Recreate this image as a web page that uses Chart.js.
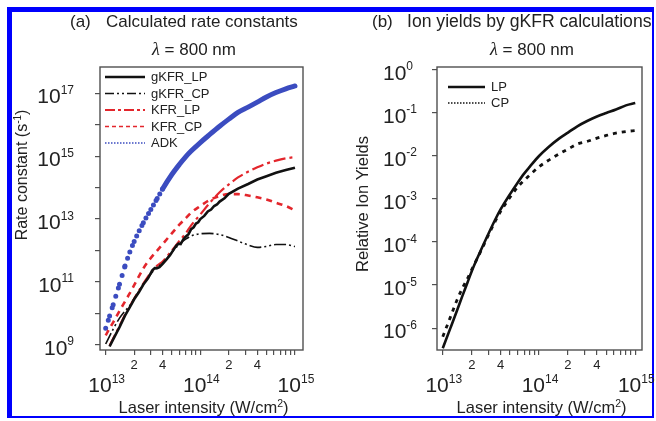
<!DOCTYPE html>
<html>
<head>
<meta charset="utf-8">
<script src="https://cdn.jsdelivr.net/npm/chart.js@4.4.0/dist/chart.umd.min.js"></script>
<style>
  body { margin: 0; background: #fff; }
  #page { position: relative; width: 656px; height: 421px; overflow: hidden; }
  #frame { position: absolute; left: 7px; top: 7px; width: 647px; height: 411px; box-sizing: border-box;
    border-style: solid; border-color: #0000fe; border-width: 5px 2px 2px 5px; }
  #chartA { position: absolute; left: 0; top: 0; }
  #chartB { position: absolute; left: 330px; top: 0; }
</style>
</head>
<body>
<div id="page">
  <div id="frame"></div>
  <canvas id="chartA" width="330" height="421"></canvas>
  <canvas id="chartB" width="326" height="421"></canvas>
</div>
<script>
// (a) rate constants (s^-1) vs laser intensity (W/cm2)
const intensityA = [1.0e13, 1.1e13, 1.2e13, 1.4e13, 1.6e13, 1.8e13, 2.0e13, 2.5e13, 3.0e13, 3.5e13, 4.0e13,
  5.0e13, 6.0e13, 7.0e13, 8.0e13, 1.0e14, 1.25e14, 1.6e14, 2.0e14, 2.5e14, 3.2e14, 4.0e14, 5.0e14, 6.3e14, 8.0e14, 1.0e15];
const adkRate = [3.4e9, 8.3e9, 1.9e10, 8.5e10, 3.2e11, 8.9e11, 1.95e12, 7.6e12, 2.0e13, 4.5e13, 9.1e13,
  2.6e14, 5.4e14, 9.5e14, 1.45e15, 2.7e15, 4.8e15, 8.9e15, 1.5e16, 2.45e16, 3.6e16, 5.2e16, 7.6e16, 1.05e17, 1.38e17, 1.7e17];
const kfrLpRate = [null, 9.5e8, 1.6e9, 4.0e9, 9.1e9, 1.7e10, 3.0e10, 8.9e10, 2.0e11, 3.3e11, 4.5e11,
  1.0e12, 2.0e12, 3.5e12, 6.3e12, 1.4e13, 3.2e13, 7.1e13, 1.26e14, 2.1e14, 3.2e14, 4.4e14, 5.8e14, 7.2e14, 8.5e14, 9.3e14];
const kfrCpRate = [2.0e9, 3.4e9, 5.2e9, 1.2e10, 2.4e10, 4.4e10, 7.9e10, 2.7e11, 5.8e11, 1.0e12, 1.6e12,
  3.5e12, 6.6e12, 1.05e13, 1.6e13, 2.6e13, 4.0e13, 5.4e13, 6.2e13, 6.2e13, 5.6e13, 4.9e13, 4.2e13, 3.3e13, 2.6e13, 1.9e13];
const gkfrCpRate = [1.07e9, 1.9e9, 3.2e9, 7.1e9, 1.2e10, 1.8e10, 3.0e10, 8.3e10, 1.8e11, 2.9e11, 4.0e11,
  8.7e11, 1.6e12, 2.3e12, 2.9e12, 3.4e12, 3.5e12, 3.2e12, 2.6e12, 2.0e12, 1.5e12, 1.26e12, 1.35e12, 1.55e12, 1.55e12, 1.35e12];
// gKFR_LP is a bit wiggly, so it gets a finer grid
const intensityLP = [1.1e13, 1.2e13, 1.4e13, 1.6e13, 1.8e13, 2.0e13, 2.25e13, 2.5e13, 2.8e13, 3.1e13,
  3.3e13, 3.5e13, 3.7e13, 4.0e13, 4.4e13, 4.8e13, 5.2e13, 5.6e13, 5.9e13, 6.2e13,
  6.6e13, 7.0e13, 7.5e13, 8.0e13, 8.5e13, 9.0e13, 9.5e13,
  1.0e14, 1.1e14, 1.2e14, 1.3e14, 1.4e14, 1.5e14, 1.6e14, 1.8e14, 2.0e14,
  2.5e14, 3.2e14, 4.0e14, 5.0e14, 6.3e14, 8.0e14, 1.0e15];
const gkfrLpRate = [8.9e8, 1.5e9, 3.7e9, 8.5e9, 1.6e10, 2.8e10, 4.8e10, 8.3e10, 1.3e11, 2.3e11,
  2.75e11, 2.75e11, 2.95e11, 3.8e11, 5.2e11, 7.2e11, 1.05e12, 1.45e12, 1.65e12, 1.6e12,
  2.25e12, 2.75e12, 3.3e12, 4.8e12, 5.5e12, 7.2e12, 7.9e12,
  1.0e13, 1.26e13, 1.74e13, 2.0e13, 2.6e13, 2.9e13, 3.6e13, 4.6e13, 6.3e13,
  9.3e13, 1.3e14, 1.8e14, 2.3e14, 2.95e14, 3.6e14, 4.3e14];

// (b) relative ion yields
const intensityB = [1.0e13, 1.2e13, 1.4e13, 1.6e13, 1.8e13, 2.0e13, 2.5e13, 3.0e13, 3.5e13, 4.0e13, 5.0e13,
  6.0e13, 7.0e13, 8.0e13, 1.0e14, 1.25e14, 1.6e14, 2.0e14, 2.5e14, 3.2e14, 4.0e14, 5.0e14, 6.3e14, 8.0e14, 1.0e15];
const lpYield = [3.4e-7, 1.0e-6, 2.5e-6, 5.6e-6, 1.12e-5, 2.1e-5, 6.6e-5, 1.6e-4, 3.3e-4, 5.8e-4, 1.3e-3,
  2.4e-3, 3.9e-3, 5.6e-3, 1.0e-2, 1.6e-2, 2.5e-2, 3.5e-2, 4.9e-2, 6.6e-2, 8.3e-2, 0.10, 0.12, 0.15, 0.17];
const cpYield = [6.3e-7, 1.8e-6, 4.4e-6, 8.5e-6, 1.4e-5, 2.3e-5, 6.3e-5, 1.5e-4, 3.0e-4, 5.2e-4, 1.1e-3,
  1.9e-3, 2.7e-3, 3.6e-3, 5.6e-3, 7.9e-3, 1.1e-2, 1.45e-2, 1.9e-2, 2.2e-2, 2.6e-2, 3.0e-2, 3.4e-2, 3.7e-2, 3.9e-2];

// ticks
const xTicks = [1e13, 2e13, 3e13, 4e13, 5e13, 6e13, 7e13, 8e13, 9e13,
  1e14, 2e14, 3e14, 4e14, 5e14, 6e14, 7e14, 8e14, 9e14, 1e15];
const xDecades = [1e13, 1e14, 1e15];
const xDecadeExps = ['13', '14', '15'];
const xMinorLabels = [2e13, 4e13, 2e14, 4e14];
const xMinorTexts = ['2', '4', '2', '4'];
const yTicksA = [1e9, 1e10, 1e11, 1e12, 1e13, 1e14, 1e15, 1e16, 1e17];
const yLabelsA = [1e9, 1e11, 1e13, 1e15, 1e17];
const yExpsA = ['9', '11', '13', '15', '17'];
const yTicksB = [1e-6, 1e-5, 1e-4, 1e-3, 1e-2, 1e-1, 1];
const yExpsB = ['-6', '-5', '-4', '-3', '-2', '-1', '0'];

const FONT = '"Liberation Sans", Arial, sans-serif';
const TEXT = '#222';
const AXIS = '#505050';
const RED = '#e3262c';
const BLUE = '#3b4cc0';

Chart.defaults.font.family = FONT;

function pts(xs, ys) {
  return xs.map((x, i) => ({x: x, y: ys[i]})).filter(p => p.y !== null);
}

function setFont(ctx, p) {
  ctx.font = (p.style || '') + ' ' + p.size + 'px ' + (p.family || FONT);
}

// draw text pieces side by side, pieces can be raised (superscripts)
function richText(ctx, parts, x, y, align) {
  let total = 0;
  parts.forEach(p => { setFont(ctx, p); p.w = ctx.measureText(p.text).width; total += p.w; });
  let cx = align === 'center' ? x - total / 2 : (align === 'right' ? x - total : x);
  ctx.textAlign = 'left';
  ctx.textBaseline = 'alphabetic';
  parts.forEach(p => {
    setFont(ctx, p);
    ctx.fillText(p.text, cx, y - (p.rise || 0));
    cx += p.w;
  });
}

function power(exp) {
  return [{text: '10', size: 21}, {text: exp, size: 12, rise: 9.5}];
}

function drawLegend(ctx, chart, dx, dy, step, len) {
  const a = chart.chartArea;
  chart.data.datasets.forEach((ds, i) => {
    const x = a.left + dx;
    const y = a.top + dy + i * step;
    ctx.save();
    ctx.strokeStyle = ds.borderColor;
    ctx.lineWidth = ds.legendWidth;
    ctx.setLineDash(ds.legendDash);
    ctx.beginPath();
    ctx.moveTo(x, y);
    ctx.lineTo(x + len, y);
    ctx.stroke();
    ctx.restore();
    ctx.font = '13px ' + FONT;
    ctx.textAlign = 'left';
    ctx.textBaseline = 'middle';
    ctx.fillText(ds.label, x + len + 6, y + 0.5);
  });
}

function drawXAxis(ctx, x, mid) {
  xDecades.forEach((v, i) => richText(ctx, power(xDecadeExps[i]), x.getPixelForValue(v) + 1, 392, 'center'));
  ctx.font = '13px ' + FONT;
  ctx.textAlign = 'center';
  ctx.textBaseline = 'alphabetic';
  xMinorLabels.forEach((v, i) => ctx.fillText(xMinorTexts[i], x.getPixelForValue(v), 369));
  richText(ctx, [{text: 'Laser intensity (W/cm', size: 16.5}, {text: '2', size: 10.5, rise: 6}, {text: ')', size: 16.5}], mid, 413, 'center');
}

function logAxis(min, max, ticks, size, horizontal) {
  return {
    type: 'logarithmic',
    min: min,
    max: max,
    afterBuildTicks: s => { s.ticks = ticks.map(v => ({value: v})); },
    afterFit: s => { if (horizontal) s.height = size; else s.width = size; },
    ticks: {display: false},
    grid: {drawOnChartArea: false, drawTicks: true, tickLength: 5, color: AXIS, lineWidth: 1.2},
    border: {display: false}
  };
}

// ADK markers sit close together where the curve flattens: dot spacing follows the slope
function adkDash(c) {
  const dx = c.p1.x - c.p0.x;
  const gap = 2.6 * Math.hypot(dx, c.p1.y - c.p0.y) / dx;
  return gap > 5 ? [0, gap] : undefined;
}

const panelA = {
  id: 'panelA',
  afterDraw(chart) {
    const {ctx, chartArea: a, scales: {x, y}} = chart;
    ctx.save();
    ctx.strokeStyle = AXIS;
    ctx.lineWidth = 1.4;
    ctx.strokeRect(a.left, a.top, a.right - a.left, a.bottom - a.top);
    ctx.fillStyle = TEXT;
    // titles
    richText(ctx, [{text: '(a)', size: 17}], 70, 27, 'left');
    richText(ctx, [{text: 'Calculated rate constants', size: 17}], 106, 27, 'left');
    richText(ctx, [{text: 'λ', size: 18, style: 'italic', family: '"Liberation Serif", serif'},
      {text: ' = 800 nm', size: 17}], 194, 55, 'center');
    yLabelsA.forEach((v, i) => richText(ctx, power(yExpsA[i]), 74, y.getPixelForValue(v) + 10, 'right'));
    drawXAxis(ctx, x, (a.left + a.right) / 2 + 2);
    ctx.save();
    ctx.translate(21, 175);
    ctx.rotate(-Math.PI / 2);
    richText(ctx, [{text: 'Rate constant (s', size: 16}, {text: '-1', size: 10, rise: 6}, {text: ')', size: 16}], 0, 6, 'center');
    ctx.restore();
    drawLegend(ctx, chart, 5, 10, 16.5, 40);
    ctx.restore();
  }
};

const panelB = {
  id: 'panelB',
  afterDraw(chart) {
    const {ctx, chartArea: a, scales: {x, y}} = chart;
    ctx.save();
    ctx.strokeStyle = AXIS;
    ctx.lineWidth = 1.4;
    ctx.strokeRect(a.left, a.top, a.right - a.left, a.bottom - a.top);
    ctx.fillStyle = TEXT;
    richText(ctx, [{text: '(b)', size: 17}], 42, 27, 'left');
    richText(ctx, [{text: 'Ion yields by gKFR calculations', size: 17.6}], 77, 27, 'left');
    richText(ctx, [{text: 'λ', size: 18, style: 'italic', family: '"Liberation Serif", serif'},
      {text: ' = 800 nm', size: 17}], 202, 55, 'center');
    yTicksB.forEach((v, i) => richText(ctx, power(yExpsB[i]), 53, y.getPixelForValue(v) + 10, 'left'));
    drawXAxis(ctx, x, (a.left + a.right) / 2 + 2);
    ctx.save();
    ctx.translate(32, 204);
    ctx.rotate(-Math.PI / 2);
    richText(ctx, [{text: 'Relative Ion Yields', size: 16.5}], 0, 6, 'center');
    ctx.restore();
    drawLegend(ctx, chart, 11, 20, 16, 37);
    ctx.restore();
  }
};

const common = {
  responsive: false,
  animation: false,
  events: [],
  elements: {point: {radius: 0}},
  plugins: {legend: {display: false}, tooltip: {enabled: false}}
};

new Chart(document.getElementById('chartA'), {
  type: 'line',
  data: {
    datasets: [
      {label: 'gKFR_LP', data: pts(intensityLP, gkfrLpRate), borderColor: '#111', borderWidth: 2.6,
        tension: 0, legendWidth: 2.5, legendDash: []},
      {label: 'gKFR_CP', data: pts(intensityA, gkfrCpRate), borderColor: '#111', borderWidth: 1.6,
        borderDash: [12, 3, 2, 3, 2, 3], cubicInterpolationMode: 'monotone', legendWidth: 1.5, legendDash: [9, 3, 2, 3, 2, 3]},
      {label: 'KFR_LP', data: pts(intensityA, kfrLpRate), borderColor: RED, borderWidth: 2.2,
        borderDash: [12, 4, 3, 4], cubicInterpolationMode: 'monotone', legendWidth: 2, legendDash: [10, 3, 3, 3]},
      {label: 'KFR_CP', data: pts(intensityA, kfrCpRate), borderColor: RED, borderWidth: 2.6,
        borderDash: [6, 5], cubicInterpolationMode: 'monotone', legendWidth: 1.5, legendDash: [4, 3]},
      {label: 'ADK', data: pts(intensityA, adkRate), borderColor: BLUE, borderWidth: 5, borderCapStyle: 'round',
        cubicInterpolationMode: 'monotone', legendWidth: 1.5, legendDash: [1.5, 1.5],
        segment: {borderDash: adkDash}}
    ]
  },
  options: Object.assign({}, common, {
    layout: {padding: {left: 0, top: 67, right: 27, bottom: 0}},
    scales: {
      x: logAxis(8.71e12, 1.216e15, xTicks, 71, true),
      y: logAxis(6.9e8, 6.8e17, yTicksA, 100, false)
    }
  }),
  plugins: [panelA]
});

new Chart(document.getElementById('chartB'), {
  type: 'line',
  data: {
    datasets: [
      {label: 'LP', data: pts(intensityB, lpYield), borderColor: '#111', borderWidth: 2.6,
        cubicInterpolationMode: 'monotone', legendWidth: 2.5, legendDash: []},
      {label: 'CP', data: pts(intensityB, cpYield), borderColor: '#111', borderWidth: 2.8,
        borderDash: [4, 5], cubicInterpolationMode: 'monotone', legendWidth: 1.5, legendDash: [1.5, 1.5]}
    ]
  },
  options: Object.assign({}, common, {
    layout: {padding: {left: 0, top: 67, right: 14, bottom: 0}},
    scales: {
      x: logAxis(8.71e12, 1.175e15, xTicks, 71, true),
      y: logAxis(3.1e-7, 1.17, yTicksB, 107, false)
    }
  }),
  plugins: [panelB]
});
</script>
</body>
</html>
